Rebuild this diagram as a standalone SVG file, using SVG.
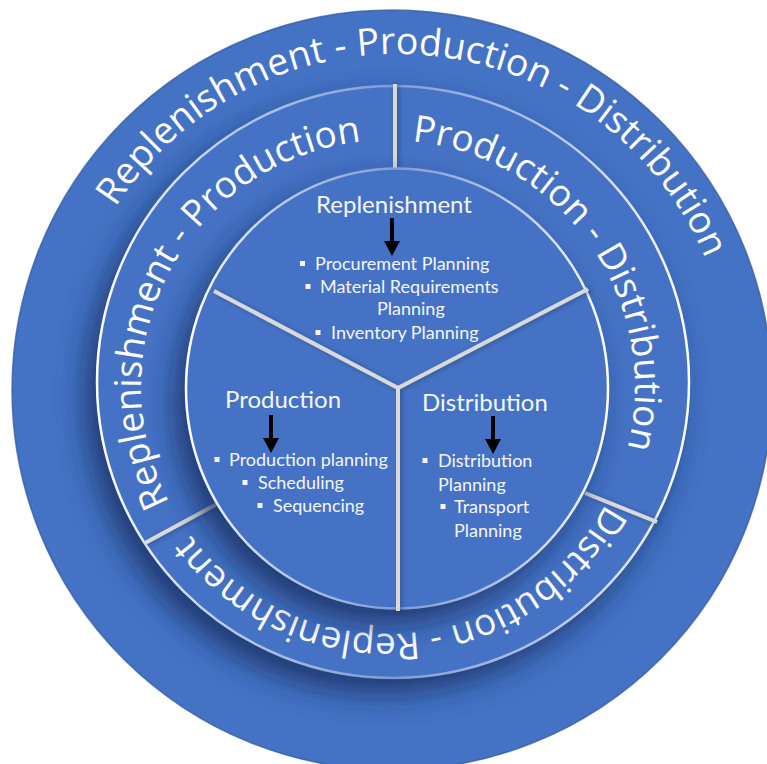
<svg xmlns="http://www.w3.org/2000/svg" width="767" height="764" viewBox="0 0 767 764">
  <defs>
    <style>
      .disc { fill: #4472C4; }
      .arc-label { font-family: "Open Sans", "Noto Sans", sans-serif; font-size: 37.5px; fill: #FFFFFF; }
      .ring-label { font-family: "Open Sans", "Noto Sans", sans-serif; font-size: 37px; fill: #FFFFFF; }
      .title { font-family: Lato, "Open Sans", sans-serif; font-size: 24px; fill: #F4F6FA; }
      .item { font-family: Lato, "Open Sans", sans-serif; font-size: 18px; fill: #F4F6FA; }
      .bullet { fill: #F4F6FA; }
      .divider { stroke: #D9D9D9; stroke-width: 4; stroke-linecap: butt; fill: none; }
      .rim { fill: none; stroke: url(#rimGlow); stroke-width: 2.5; }
    </style>
    <!-- soft shadow thrown toward the lower left -->
    <filter id="dropShadow" x="-20%" y="-20%" width="140%" height="140%">
      <feGaussianBlur in="SourceAlpha" stdDeviation="14"/>
      <feOffset dx="-11" dy="15" result="blur"/>
      <feFlood flood-color="#14295A" flood-opacity="0.75"/>
      <feComposite in2="blur" operator="in"/>
      <feMerge>
        <feMergeNode/>
        <feMergeNode in="SourceGraphic"/>
      </feMerge>
    </filter>
    <filter id="lineShadow" x="-50%" y="-50%" width="200%" height="200%">
      <feGaussianBlur in="SourceAlpha" stdDeviation="2"/>
      <feOffset dx="2" dy="1" result="blur"/>
      <feFlood flood-color="#1F3864" flood-opacity="0.5"/>
      <feComposite in2="blur" operator="in"/>
      <feMerge>
        <feMergeNode/>
        <feMergeNode in="SourceGraphic"/>
      </feMerge>
    </filter>
    <!-- bevel highlight: brightest where the edge is vertical -->
    <linearGradient id="rimGlow" x1="0" y1="0" x2="1" y2="0">
      <stop offset="0" stop-color="#FFFFFF" stop-opacity="1"/>
      <stop offset="0.2" stop-color="#FFFFFF" stop-opacity="0.65"/>
      <stop offset="0.5" stop-color="#FFFFFF" stop-opacity="0.3"/>
      <stop offset="0.8" stop-color="#FFFFFF" stop-opacity="0.65"/>
      <stop offset="1" stop-color="#FFFFFF" stop-opacity="1"/>
    </linearGradient>
    <!-- circular baselines for curved labels (clockwise so glyphs face outward) -->
    <path id="outerPath" d="M397,724 A335,335 0 1 1 397,54 A335,335 0 1 1 397,724"/>
    <path id="ringPath" d="M388,140 A247,247 0 1 1 388,634 A247,247 0 1 1 388,140"/>
    <!-- block arrow, origin at the top of the shaft -->
    <path id="downArrow" d="M-2,0 H2 V23 H8 L0,38 L-8,23 H-2 Z" fill="#000000"/>
    <rect id="sq" width="5" height="5" class="bullet"/>
  </defs>

  <!-- outermost disc: Replenishment - Production - Distribution -->
  <g id="outer">
    <circle class="disc" cx="392" cy="390" r="380" stroke="#2F5597" stroke-width="1.5" stroke-opacity="0.7"/>
    <text class="arc-label"><textPath href="#outerPath" startOffset="1081" text-anchor="middle">Replenishment - Production - Distribution</textPath></text>
  </g>

  <!-- middle ring with its three pair labels -->
  <g id="ring">
    <circle class="disc" cx="393" cy="382" r="297" filter="url(#dropShadow)"/>
    <circle class="rim" cx="393" cy="382" r="296"/>
    <g id="ring-replenishment-production">
      <text class="ring-label"><textPath href="#ringPath" startOffset="1284" text-anchor="middle">Replenishment - Production</textPath></text>
    </g>
    <g id="ring-production-distribution">
      <text class="ring-label"><textPath href="#ringPath" startOffset="237" text-anchor="middle">Production - Distribution</textPath></text>
    </g>
    <g id="ring-distribution-replenishment">
      <text class="ring-label"><textPath href="#ringPath" startOffset="757" text-anchor="middle">Distribution - Replenishment</textPath></text>
    </g>
  </g>

  <!-- connectors: ring dividers -->
  <g id="ring-dividers" filter="url(#lineShadow)">
    <line class="divider" x1="395" y1="84" x2="395" y2="168"/>
    <line class="divider" x1="145" y1="543" x2="217" y2="504"/>
    <line class="divider" x1="585" y1="493" x2="657" y2="522"/>
  </g>

  <!-- inner disc -->
  <g id="core">
    <ellipse class="disc" cx="397" cy="388.5" rx="212" ry="221" filter="url(#dropShadow)"/>
    <ellipse class="rim" cx="397" cy="388.5" rx="211" ry="220"/>
  </g>

  <!-- connectors: sector spokes and arrows -->
  <g id="connectors">
    <g filter="url(#lineShadow)">
      <line class="divider" x1="398" y1="388" x2="214" y2="291"/>
      <line class="divider" x1="398" y1="388" x2="588" y2="289"/>
      <line class="divider" x1="398" y1="386" x2="398" y2="611"/>
    </g>
    <use href="#downArrow" x="392" y="218"/>
    <use href="#downArrow" x="271" y="415"/>
    <use href="#downArrow" x="493" y="416"/>
  </g>

  <!-- sector: Replenishment -->
  <g id="replenishment">
    <text class="title" x="394" y="213" text-anchor="middle">Replenishment</text>
    <use href="#sq" x="300" y="261"/>
    <text class="item" x="315" y="270">Procurement Planning</text>
    <use href="#sq" x="305.5" y="284"/>
    <text class="item" x="320" y="293">Material Requirements</text>
    <text class="item" x="377" y="315">Planning</text>
    <use href="#sq" x="315.5" y="330"/>
    <text class="item" x="331" y="339">Inventory Planning</text>
  </g>

  <!-- sector: Production -->
  <g id="production">
    <text class="title" x="225" y="408">Production</text>
    <use href="#sq" x="214.5" y="457"/>
    <text class="item" x="229" y="466">Production planning</text>
    <use href="#sq" x="242.5" y="480"/>
    <text class="item" x="258" y="489">Scheduling</text>
    <use href="#sq" x="257.5" y="503"/>
    <text class="item" x="273" y="512">Sequencing</text>
  </g>

  <!-- sector: Distribution -->
  <g id="distribution">
    <text class="title" x="422" y="411">Distribution</text>
    <use href="#sq" x="422.5" y="458"/>
    <text class="item" x="438" y="467">Distribution</text>
    <text class="item" x="438" y="491">Planning</text>
    <use href="#sq" x="440.5" y="504"/>
    <text class="item" x="454" y="513">Transport</text>
    <text class="item" x="454" y="537">Planning</text>
  </g>
</svg>
